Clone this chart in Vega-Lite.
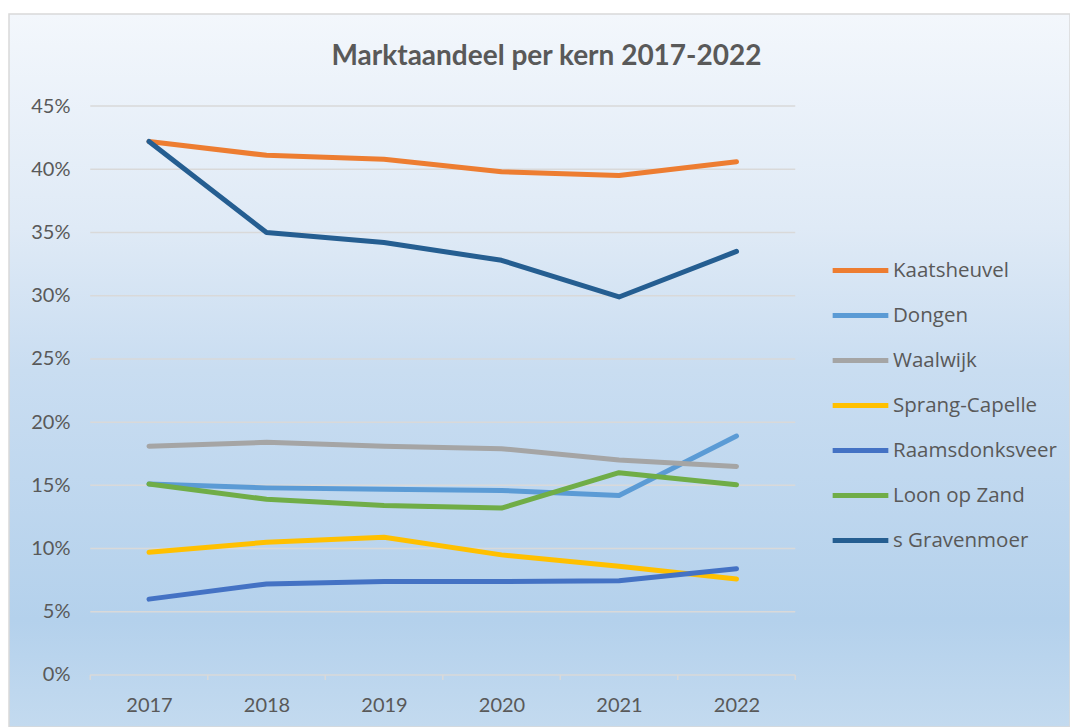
{
  "$schema": "https://vega.github.io/schema/vega-lite/v6.json",
  "width": 1061,
  "height": 713,
  "autosize": {"type": "none"},
  "padding": {"left": 9, "top": 14, "right": 0, "bottom": 0},
  "background": "white",
  "title": {
    "text": "Marktaandeel per kern 2017-2022",
    "font": "Lato",
    "fontSize": 28,
    "fontWeight": "bold",
    "color": "#595959",
    "anchor": "middle",
    "offset": -57,
    "dx": 7
  },
  "config": {
    "view": {
      "stroke": "#d9d9d9",
      "strokeWidth": 1.5,
      "fill": {
        "gradient": "linear",
        "x1": 0, "y1": 0, "x2": 0, "y2": 1,
        "stops": [
          {"offset": 0, "color": "#f3f7fc"},
          {"offset": 0.3, "color": "#dfeaf6"},
          {"offset": 0.5, "color": "#c9ddf1"},
          {"offset": 0.85, "color": "#b4d1ec"},
          {"offset": 1, "color": "#c3daef"}
        ]
      }
    }
  },
  "datasets": {
    "shares": [
      {"kern": "Kaatsheuvel", "jaar": 2017, "aandeel": 0.422},
      {"kern": "Kaatsheuvel", "jaar": 2018, "aandeel": 0.411},
      {"kern": "Kaatsheuvel", "jaar": 2019, "aandeel": 0.408},
      {"kern": "Kaatsheuvel", "jaar": 2020, "aandeel": 0.398},
      {"kern": "Kaatsheuvel", "jaar": 2021, "aandeel": 0.395},
      {"kern": "Kaatsheuvel", "jaar": 2022, "aandeel": 0.406},
      {"kern": "Dongen", "jaar": 2017, "aandeel": 0.151},
      {"kern": "Dongen", "jaar": 2018, "aandeel": 0.148},
      {"kern": "Dongen", "jaar": 2019, "aandeel": 0.147},
      {"kern": "Dongen", "jaar": 2020, "aandeel": 0.146},
      {"kern": "Dongen", "jaar": 2021, "aandeel": 0.142},
      {"kern": "Dongen", "jaar": 2022, "aandeel": 0.189},
      {"kern": "Waalwijk", "jaar": 2017, "aandeel": 0.181},
      {"kern": "Waalwijk", "jaar": 2018, "aandeel": 0.184},
      {"kern": "Waalwijk", "jaar": 2019, "aandeel": 0.181},
      {"kern": "Waalwijk", "jaar": 2020, "aandeel": 0.179},
      {"kern": "Waalwijk", "jaar": 2021, "aandeel": 0.17},
      {"kern": "Waalwijk", "jaar": 2022, "aandeel": 0.165},
      {"kern": "Sprang-Capelle", "jaar": 2017, "aandeel": 0.097},
      {"kern": "Sprang-Capelle", "jaar": 2018, "aandeel": 0.105},
      {"kern": "Sprang-Capelle", "jaar": 2019, "aandeel": 0.109},
      {"kern": "Sprang-Capelle", "jaar": 2020, "aandeel": 0.095},
      {"kern": "Sprang-Capelle", "jaar": 2021, "aandeel": 0.086},
      {"kern": "Sprang-Capelle", "jaar": 2022, "aandeel": 0.076},
      {"kern": "Raamsdonksveer", "jaar": 2017, "aandeel": 0.06},
      {"kern": "Raamsdonksveer", "jaar": 2018, "aandeel": 0.072},
      {"kern": "Raamsdonksveer", "jaar": 2019, "aandeel": 0.074},
      {"kern": "Raamsdonksveer", "jaar": 2020, "aandeel": 0.074},
      {"kern": "Raamsdonksveer", "jaar": 2021, "aandeel": 0.0745},
      {"kern": "Raamsdonksveer", "jaar": 2022, "aandeel": 0.084},
      {"kern": "Loon op Zand", "jaar": 2017, "aandeel": 0.151},
      {"kern": "Loon op Zand", "jaar": 2018, "aandeel": 0.139},
      {"kern": "Loon op Zand", "jaar": 2019, "aandeel": 0.134},
      {"kern": "Loon op Zand", "jaar": 2020, "aandeel": 0.132},
      {"kern": "Loon op Zand", "jaar": 2021, "aandeel": 0.16},
      {"kern": "Loon op Zand", "jaar": 2022, "aandeel": 0.1505},
      {"kern": "s Gravenmoer", "jaar": 2017, "aandeel": 0.422},
      {"kern": "s Gravenmoer", "jaar": 2018, "aandeel": 0.35},
      {"kern": "s Gravenmoer", "jaar": 2019, "aandeel": 0.342},
      {"kern": "s Gravenmoer", "jaar": 2020, "aandeel": 0.328},
      {"kern": "s Gravenmoer", "jaar": 2021, "aandeel": 0.299},
      {"kern": "s Gravenmoer", "jaar": 2022, "aandeel": 0.335}
    ],
    "grid": [
      {"v": 0, "start": 2016.5, "end": 2022.5},
      {"v": 0.05, "start": 2016.5, "end": 2022.5},
      {"v": 0.1, "start": 2016.5, "end": 2022.5},
      {"v": 0.15, "start": 2016.5, "end": 2022.5},
      {"v": 0.2, "start": 2016.5, "end": 2022.5},
      {"v": 0.25, "start": 2016.5, "end": 2022.5},
      {"v": 0.3, "start": 2016.5, "end": 2022.5},
      {"v": 0.35, "start": 2016.5, "end": 2022.5},
      {"v": 0.4, "start": 2016.5, "end": 2022.5},
      {"v": 0.45, "start": 2016.5, "end": 2022.5}
    ],
    "ticks": [
      {"t": 2016.5, "top": 0, "bottom": -0.004},
      {"t": 2017.5, "top": 0, "bottom": -0.004},
      {"t": 2018.5, "top": 0, "bottom": -0.004},
      {"t": 2019.5, "top": 0, "bottom": -0.004},
      {"t": 2020.5, "top": 0, "bottom": -0.004},
      {"t": 2021.5, "top": 0, "bottom": -0.004},
      {"t": 2022.5, "top": 0, "bottom": -0.004}
    ]
  },
  "layer": [
    {
      "data": {"name": "grid"},
      "mark": {"type": "rule", "color": "#d9d9d9", "strokeWidth": 1.5},
      "encoding": {
        "x": {
          "field": "start", "type": "quantitative",
          "scale": {"domain": [2015.8085, 2024.8383], "nice": false, "zero": false},
          "axis": {
            "values": [2017, 2018, 2019, 2020, 2021, 2022],
            "format": "d",
            "title": null,
            "grid": false,
            "domain": false,
            "ticks": false,
            "offset": -52,
            "labelPadding": 20,
            "labelFont": "Lato",
            "labelFontSize": 20,
            "labelColor": "#595959"
          }
        },
        "x2": {"field": "end"},
        "y": {
          "field": "v", "type": "quantitative",
          "scale": {"domain": [-0.04113, 0.5228], "nice": false, "zero": false},
          "axis": {
            "values": [0, 0.05, 0.1, 0.15, 0.2, 0.25, 0.3, 0.35, 0.4, 0.45],
            "format": ".0%",
            "title": null,
            "grid": false,
            "domain": false,
            "ticks": false,
            "offset": -61,
            "labelPadding": 0,
            "labelFont": "Lato",
            "labelFontSize": 20,
            "labelColor": "#595959"
          }
        }
      }
    },
    {
      "data": {"name": "ticks"},
      "mark": {"type": "rule", "color": "#d9d9d9", "strokeWidth": 1.5},
      "encoding": {
        "x": {"field": "t", "type": "quantitative"},
        "y": {"field": "top", "type": "quantitative"},
        "y2": {"field": "bottom"}
      }
    },
    {
      "data": {"name": "shares"},
      "mark": {"type": "line", "strokeWidth": 5, "strokeCap": "round", "strokeJoin": "round"},
      "encoding": {
        "x": {"field": "jaar", "type": "quantitative"},
        "y": {"field": "aandeel", "type": "quantitative"},
        "color": {
          "field": "kern", "type": "nominal",
          "scale": {
            "domain": ["Kaatsheuvel", "Dongen", "Waalwijk", "Sprang-Capelle", "Raamsdonksveer", "Loon op Zand", "s Gravenmoer"],
            "range": ["#ED7D31", "#5B9BD5", "#A5A5A5", "#FFC000", "#4472C4", "#70AD47", "#255E91"]
          },
          "legend": {
            "title": null,
            "orient": "none",
            "legendX": 821,
            "legendY": 226,
            "symbolType": "stroke",
            "symbolSize": 3100,
            "symbolStrokeWidth": 5,
            "labelFont": "Open Sans",
            "labelFontSize": 20.5,
            "labelLimit": 300,
            "labelColor": "#595959",
            "labelOffset": 2,
            "rowPadding": 4
          }
        }
      }
    }
  ]
}
